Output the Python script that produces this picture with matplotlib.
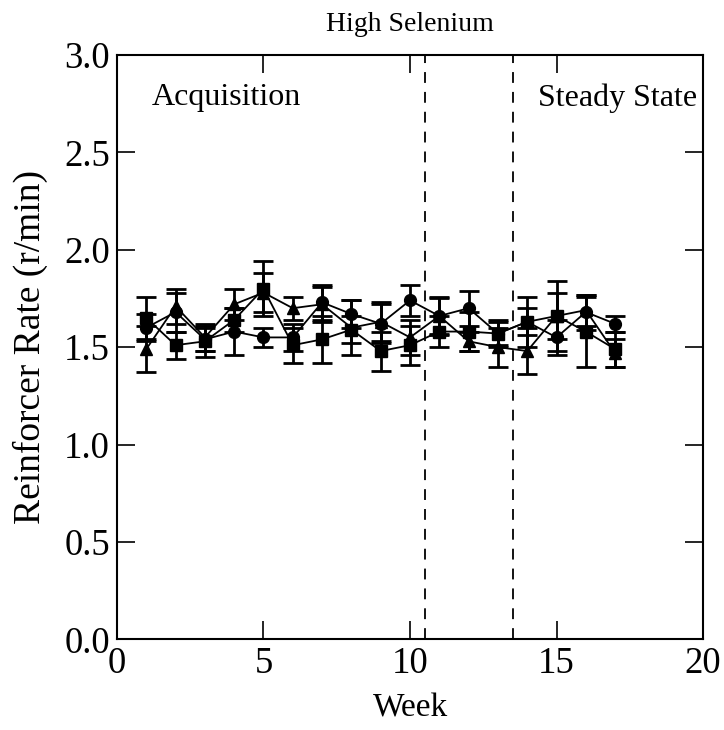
import matplotlib
matplotlib.use('Agg')
import matplotlib.pyplot as plt

plt.rcParams['font.family'] = ['Liberation Serif', 'DejaVu Serif']

weeks = list(range(1, 18))

circle_y = [1.60, 1.68, 1.54, 1.58, 1.55, 1.55, 1.73, 1.67, 1.62, 1.74, 1.66, 1.70, 1.57, 1.63, 1.55, 1.68, 1.62]
circle_err = [0.07, 0.10, 0.06, 0.12, 0.05, 0.07, 0.09, 0.07, 0.10, 0.08, 0.09, 0.09, 0.07, 0.07, 0.09, 0.09, 0.04]

square_y = [1.65, 1.51, 1.53, 1.64, 1.80, 1.51, 1.54, 1.59, 1.48, 1.51, 1.58, 1.58, 1.57, 1.63, 1.66, 1.58, 1.49]
square_err = [0.11, 0.07, 0.08, 0.06, 0.14, 0.09, 0.12, 0.07, 0.10, 0.10, 0.08, 0.10, 0.06, 0.13, 0.18, 0.18, 0.09]

triangle_y = [1.49, 1.71, 1.55, 1.72, 1.78, 1.70, 1.72, 1.60, 1.63, 1.55, 1.66, 1.53, 1.50, 1.48, 1.66, 1.69, 1.47]
triangle_err = [0.12, 0.09, 0.07, 0.08, 0.10, 0.06, 0.09, 0.14, 0.10, 0.09, 0.10, 0.05, 0.10, 0.12, 0.12, 0.08, 0.07]

phase_breaks = [10.5, 13.5]

fig = plt.figure(figsize=(7.24, 7.30), dpi=100)
ax = fig.add_axes([0.1616, 0.1242, 0.8094, 0.8005])

for y, err, mk in [(circle_y, circle_err, 'o'),
                   (square_y, square_err, 's'),
                   (triangle_y, triangle_err, '^')]:
    ax.errorbar(weeks, y, yerr=err, fmt='-' + mk, color='black', ms=8.5,
                lw=1.3, elinewidth=2, capsize=7.5, capthick=2)

for xb in phase_breaks:
    ax.axvline(xb, color='black', ls=(0, (6, 5)), lw=1.3)

ax.set_xlim(0, 20)
ax.set_ylim(0, 3.0)
ax.set_xticks([0, 5, 10, 15, 20])
ax.set_yticks([0, 0.5, 1.0, 1.5, 2.0, 2.5, 3.0])
ax.set_yticklabels(['0.0', '0.5', '1.0', '1.5', '2.0', '2.5', '3.0'])
ax.tick_params(direction='in', length=13, width=1.2, labelsize=26.5,
               top=True, right=True, pad=5)
for s in ax.spines.values():
    s.set_linewidth(1.5)

ax.set_xlabel('Week', fontsize=24, labelpad=9)
ax.set_ylabel('Reinforcer Rate (r/min)', fontsize=27, labelpad=12)
ax.set_title('High Selenium', fontsize=20, pad=17)

ax.text(1.2, 2.78, 'Acquisition', fontsize=23, va='center', ha='left')
ax.text(19.8, 2.78, 'Steady State', fontsize=23, va='center', ha='right')

fig.savefig('out.png', dpi=100)
